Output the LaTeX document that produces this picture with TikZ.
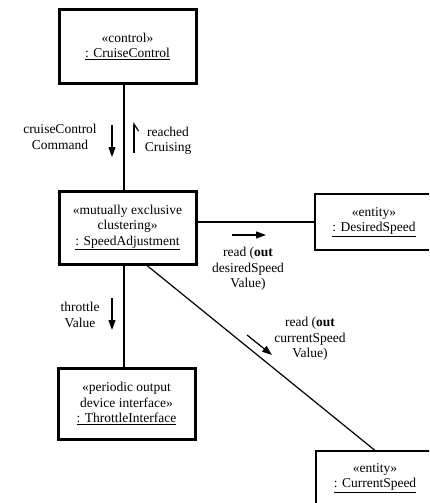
\documentclass[tikz,border=0pt]{standalone}
\usepackage{fontspec}
\setmainfont{Liberation Serif}
\usetikzlibrary{arrows.meta,calc}
\begin{document}
\begin{tikzpicture}[x=1pt,y=-1pt,
  every node/.style={font=\fontsize{13.5}{15.5}\selectfont, align=center, inner sep=0pt},
  heavybox/.style={draw, line width=3pt, minimum width=137pt, minimum height=73pt},
  thinbox/.style={draw, line width=1.1pt, minimum width=118pt},
  link/.style={line width=1.2pt},
  heavylink/.style={line width=1.8pt},
  msg/.style={line width=1.2pt, -{Triangle[length=10pt,width=7pt]}},
  reply/.style={line width=1.2pt, -{Straight Barb[right,length=7pt,width=9pt]}}
]
\useasboundingbox (0,0) rectangle (429,503);
\clip (0,0) rectangle (429,503);

% objects
\node[heavybox] (cc) at (127.5,46.5) {«control»\\\underline{: CruiseControl}};
\node[heavybox] (sa) at (127.5,227.5) {«mutually exclusive\\clustering»\\\underline{: SpeedAdjustment}};
\node[heavybox, minimum height=71pt] (ti) at (126.5,403.5) {«periodic output\\device interface»\\\underline{: ThrottleInterface}};
\node[thinbox, minimum height=56pt] (ds) at (374,222) {«entity»\\\underline{: DesiredSpeed}};
\node[thinbox, minimum height=54pt] (cs) at (375,478) {«entity»\\\underline{: CurrentSpeed}};

% links
\draw[link] ([xshift=-3.5pt]cc.south) -- ([xshift=-3.5pt]sa.north);
\draw[link] (ds.west -| sa.east) -- (ds.west);
\draw[heavylink] ([xshift=-3.5pt]sa.south) -- ([xshift=-2.5pt]ti.north);
\draw[link] ([xshift=19.5pt]sa.south) -- (cs.north);

% messages
\coordinate (m1a) at (112,125); \coordinate (m1b) at (112,157);
\draw[msg] (m1a) -- (m1b);
\node (m1t) at (60,137) {cruiseControl\\Command};

\coordinate (m2a) at (134,153); \coordinate (m2b) at (134,122);
\draw[reply] (m2a) -- (m2b);
\node (m2t) at (168,141) {reached\\Cruising};

\coordinate (m3a) at (112,298); \coordinate (m3b) at (112,330);
\draw[msg] (m3a) -- (m3b);
\node (m3t) at (80,315) {throttle\\Value};

\coordinate (m4a) at (232,235); \coordinate (m4b) at (266,235);
\draw[msg] (m4a) -- (m4b);
\node (m4t) at (248,269) {read (\textbf{out}\\desiredSpeed\\Value)};

\coordinate (m5a) at (247,335); \coordinate (m5b) at (272,355);
\draw[msg] (m5a) -- (m5b);
\node (m5t) at (310,339) {read (\textbf{out}\\currentSpeed\\Value)};
\end{tikzpicture}
\end{document}
